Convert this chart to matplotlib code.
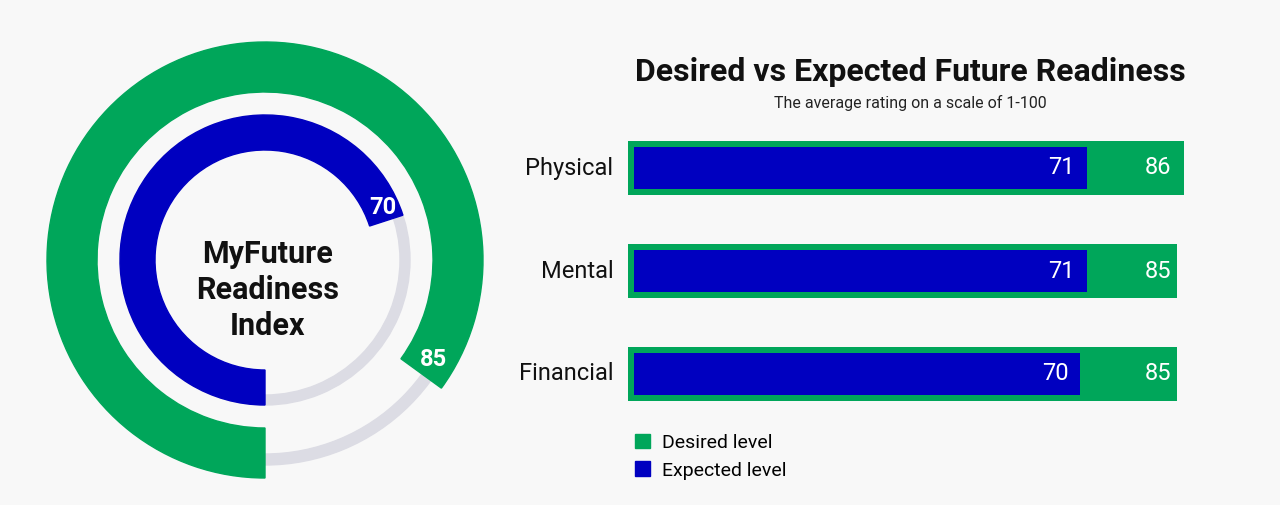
import matplotlib.pyplot as plt
from matplotlib.patches import Wedge, Patch

# data
categories = ["Physical", "Mental", "Financial"]
desired = [86, 85, 85]
expected = [71, 71, 70]
index_desired = 85
index_expected = 70

GREEN = "#00a65a"
BLUE = "#0000c0"
GRAY = "#dcdce4"
BG = "#f8f8f8"
plt.rcParams["font.family"] = "Roboto"

fig = plt.figure(figsize=(12.8, 5.05), dpi=100, facecolor=BG)

# ---- donut (left), axes in pixel units
ax = fig.add_axes([0, 0, 530 / 1280, 1])
ax.set_xlim(0, 530)
ax.set_ylim(0, 505)
ax.set_aspect("equal")
ax.axis("off")
cx, cy = 265, 245

def end_angle(value):
    # start at 6 o'clock, run clockwise
    return 270 - value / 100 * 360

ax.add_patch(Wedge((cx, cy), 205, 0, 360, width=11, color=GRAY))
ax.add_patch(Wedge((cx, cy), 145, 0, 360, width=10, color=GRAY))
ax.add_patch(Wedge((cx, cy), 218, end_angle(index_desired), 270, width=50, color=GREEN))
ax.add_patch(Wedge((cx, cy), 145, end_angle(index_expected), 270, width=35, color=BLUE))
ax.text(433, 145, str(index_desired), color="white", fontsize=17, fontweight="bold",
        ha="center", va="center")
ax.text(383, 298, str(index_expected), color="white", fontsize=17, fontweight="bold",
        ha="center", va="center")
ax.text(268, 215, "MyFuture\nReadiness\nIndex", fontsize=22, fontweight="bold",
        ha="center", va="center", linespacing=1.25, color="#111111")

# ---- bars (right)
bx = fig.add_axes([628 / 1280, (505 - 425.5) / 505, 646 / 1280, 309 / 505])
bx.set_facecolor(BG)
bx.set_xlim(0, 100)
bx.set_ylim(2.5, -0.5)
bx.axis("off")
pos = range(len(categories))
bx.barh(pos, desired, height=0.53, color=GREEN)
bx.barh(pos, [e - 1 for e in expected], left=1, height=0.41, color=BLUE)
for i, (cat, d, e) in enumerate(zip(categories, desired, expected)):
    bx.text(-2.3, i, cat, ha="right", va="center", fontsize=17, color="#111111")
    bx.text(e - 1.8, i, str(e), ha="right", va="center", fontsize=17, color="white")
    bx.text(82, i, str(d), ha="center", va="center", fontsize=17, color="white")

fig.text(910 / 1280, 1 - 72 / 505, "Desired vs Expected Future Readiness",
         ha="center", va="center", fontsize=23, fontweight="bold", color="#111111")
fig.text(910 / 1280, 1 - 103 / 505, "The average rating on a scale of 1-100",
         ha="center", va="center", fontsize=11.5, color="#222222")

handles = [Patch(color=GREEN, label="Desired level"), Patch(color=BLUE, label="Expected level")]
fig.legend(handles=handles, loc="upper left", bbox_to_anchor=(617 / 1280, 1 - 416 / 505),
           frameon=False, fontsize=14, handlelength=0.8, handleheight=0.8,
           handletextpad=0.6, labelspacing=0.5)

fig.savefig("out.png", facecolor=BG)
